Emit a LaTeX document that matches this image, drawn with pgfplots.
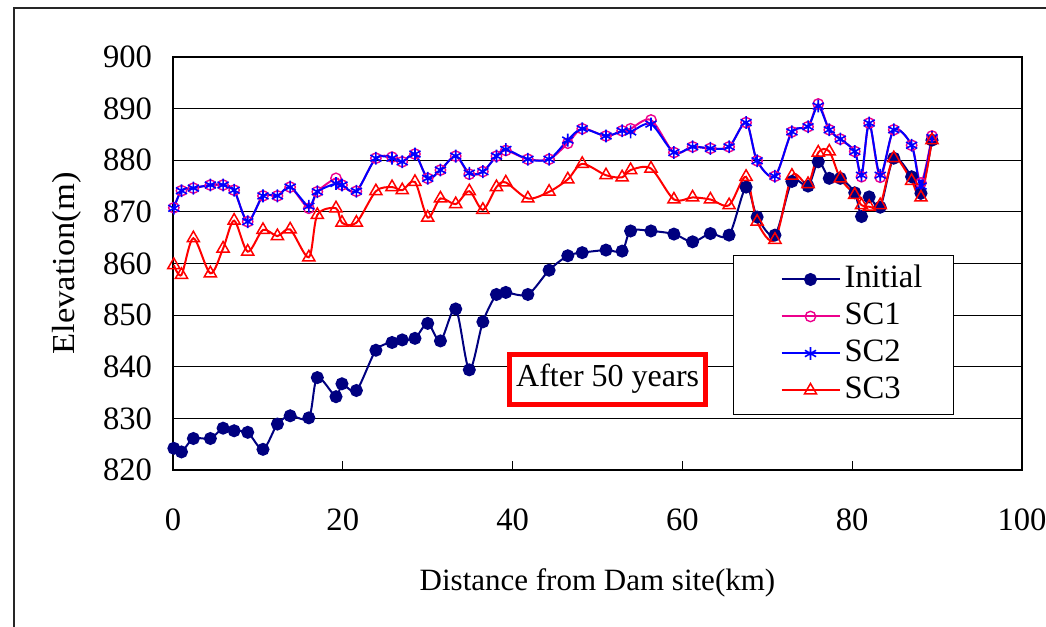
\documentclass[border=0pt]{standalone}
\usepackage{pgfplots}
\usepackage{pgfplotstable}
\pgfplotsset{compat=1.18}
\usepackage{fontspec}
\setmainfont{Liberation Serif}
\definecolor{navyblue}{RGB}{0,0,128}

% Bed elevation profiles along the river (km, m)
\pgfplotstableread{
x     init   sc1    sc2    sc3
0.1   824.2  870.8  870.7  859.7
1.0   823.5  874.1  874.1  857.8
2.4   826.1  874.6  874.6  864.9
4.4   826.1  875.2  875.2  858.1
5.9   828.1  875.2  875.2  862.9
7.2   827.6  874.2  874.2  868.3
8.8   827.3  868.1  868.1  862.3
10.6  824.0  873.1  873.1  866.5
12.3  828.9  873.1  873.1  865.3
13.8  830.5  874.8  874.8  866.6
16.0  830.1  870.7  871.1  861.2
17.0  837.9  873.9  873.9  869.4
19.2  834.2  876.5  875.5  870.7
19.9  836.7  875.2  875.2  867.9
21.6  835.4  874.0  874.0  867.9
23.9  843.2  880.4  880.4  874.0
25.8  844.7  880.6  880.4  874.8
27.0  845.2  879.7  879.7  874.2
28.5  845.5  881.2  881.2  875.8
30.0  848.4  876.5  876.5  868.9
31.5  845.0  878.1  878.1  872.6
33.3  851.2  880.8  880.8  871.5
34.9  839.4  877.3  877.5  874.0
36.5  848.7  877.8  877.8  870.4
38.1  854.0  880.8  880.8  874.8
39.2  854.4  881.9  882.1  875.7
41.8  854.0  880.2  880.2  872.6
44.3  858.7  880.2  880.2  873.9
46.5  861.5  883.3  883.9  876.3
48.2  862.1  886.1  886.1  879.3
51.0  862.6  884.7  884.7  877.1
52.9  862.4  885.7  885.7  876.7
53.9  866.3  886.1  885.5  878.1
56.3  866.3  887.8  887.0  878.4
59.0  865.7  881.5  881.5  872.4
61.2  864.2  882.6  882.6  872.8
63.3  865.8  882.3  882.3  872.4
65.5  865.5  882.6  882.6  871.3
67.5  874.8  887.3  887.3  876.8
68.8  869.0  879.9  879.9  868.1
70.9  865.5  876.9  876.9  864.6
72.9  875.9  885.5  885.5  877.0
74.8  875.0  886.5  886.5  875.4
76.0  879.7  890.9  890.5  881.5
77.3  876.5  885.9  885.9  881.7
78.6  876.5  884.1  884.1  876.5
80.3  873.7  881.7  881.7  873.3
81.1  869.1  876.8  877.1  871.3
82.0  872.9  887.2  887.2  871.0
83.3  870.9  876.7  877.1  871.3
84.9  880.4  885.9  885.9  880.4
87.0  876.8  882.9  882.9  876.0
88.1  873.6  875.6  875.0  872.8
89.4  883.9  884.7  884.4  883.9
}\profiles

\begin{document}
\fontsize{16}{19}\selectfont
\begin{tikzpicture}
\begin{axis}[
  at={(86.5pt,78.5pt)}, anchor=south west,
  width=424.5pt, height=206.5pt, scale only axis,
  xmin=0, xmax=100, ymin=820, ymax=900,
  xtick={0,20,...,100}, ytick={820,830,...,900},
  tick pos=left, tick align=inside, major tick length=4.5pt,
  tick style={black, line width=0.6pt},
  ymajorgrids, grid style={black, line width=0.5pt},
  axis line style={black, line width=0.8pt},
  /pgf/number format/assume math mode=true,
  /pgf/number format/1000 sep={},
  ticklabel style={font=\fontsize{16.3}{19}\selectfont},
  xticklabel style={yshift=-14pt},
  yticklabel style={xshift=-5pt},
  xlabel={Distance from Dam site(km)},
  ylabel={\scalebox{1.08}[1]{Elevation(m)}},
  every axis x label/.style={at={(axis description cs:0.5,-0.2736)}, anchor=center,
    font=\fontsize{15.5}{19}\selectfont},
  every axis y label/.style={at={(axis description cs:-0.1249,0.5)}, anchor=center, rotate=90,
    font=\fontsize{16}{19}\selectfont},
  legend style={at={(axis description cs:0.6596,0.5206)}, anchor=north west,
    draw=black, line width=0.5pt, fill=white,
    font=\fontsize{16.3}{19}\selectfont,
    inner xsep=13.6pt, inner ysep=2.75pt,
    nodes={text height=12pt, text depth=4pt, inner ysep=1.25pt},
    cells={anchor=west}},
  legend image code/.code={\path (-9.9pt,0pt);
    \draw[mark repeat=2,mark phase=2,#1]
    plot coordinates {(0pt,0pt) (14.5pt,0pt) (29pt,0pt)};},
]
\addplot[navyblue, line width=1pt, smooth, mark=*, mark size=2.75pt,
  mark options={solid, fill=navyblue}] table[x=x, y=init] {\profiles};
\addlegendentry{Initial}
\addplot[magenta, line width=1pt, smooth, mark=o, mark size=2.6pt,
  mark options={solid, line width=0.7pt}] table[x=x, y=sc1] {\profiles};
\addlegendentry{SC1}
\addplot[blue, line width=1pt, smooth, mark=asterisk, mark size=3.2pt,
  mark options={solid, line width=0.8pt}] table[x=x, y=sc2] {\profiles};
\addlegendentry{SC2}
\addplot[red, line width=1pt, smooth, mark=triangle, mark size=3.5pt,
  mark options={solid, line width=0.75pt}] table[x=x, y=sc3] {\profiles};
\addlegendentry{SC3}

\node[draw=red, line width=2.4pt, fill=white, minimum width=98pt,
  minimum height=25pt, inner sep=0pt, font=\fontsize{16}{19}\selectfont]
  at (axis cs:51.2,837.6) {After 50 years};
\end{axis}
% chart area frame
\draw[line width=1pt, black!85] (7pt,-5pt) -- (7pt,309.5pt) -- (530pt,309.5pt);
\pgfresetboundingbox
\useasboundingbox (0pt,0pt) rectangle (523pt,313.5pt);
\end{tikzpicture}
\end{document}
